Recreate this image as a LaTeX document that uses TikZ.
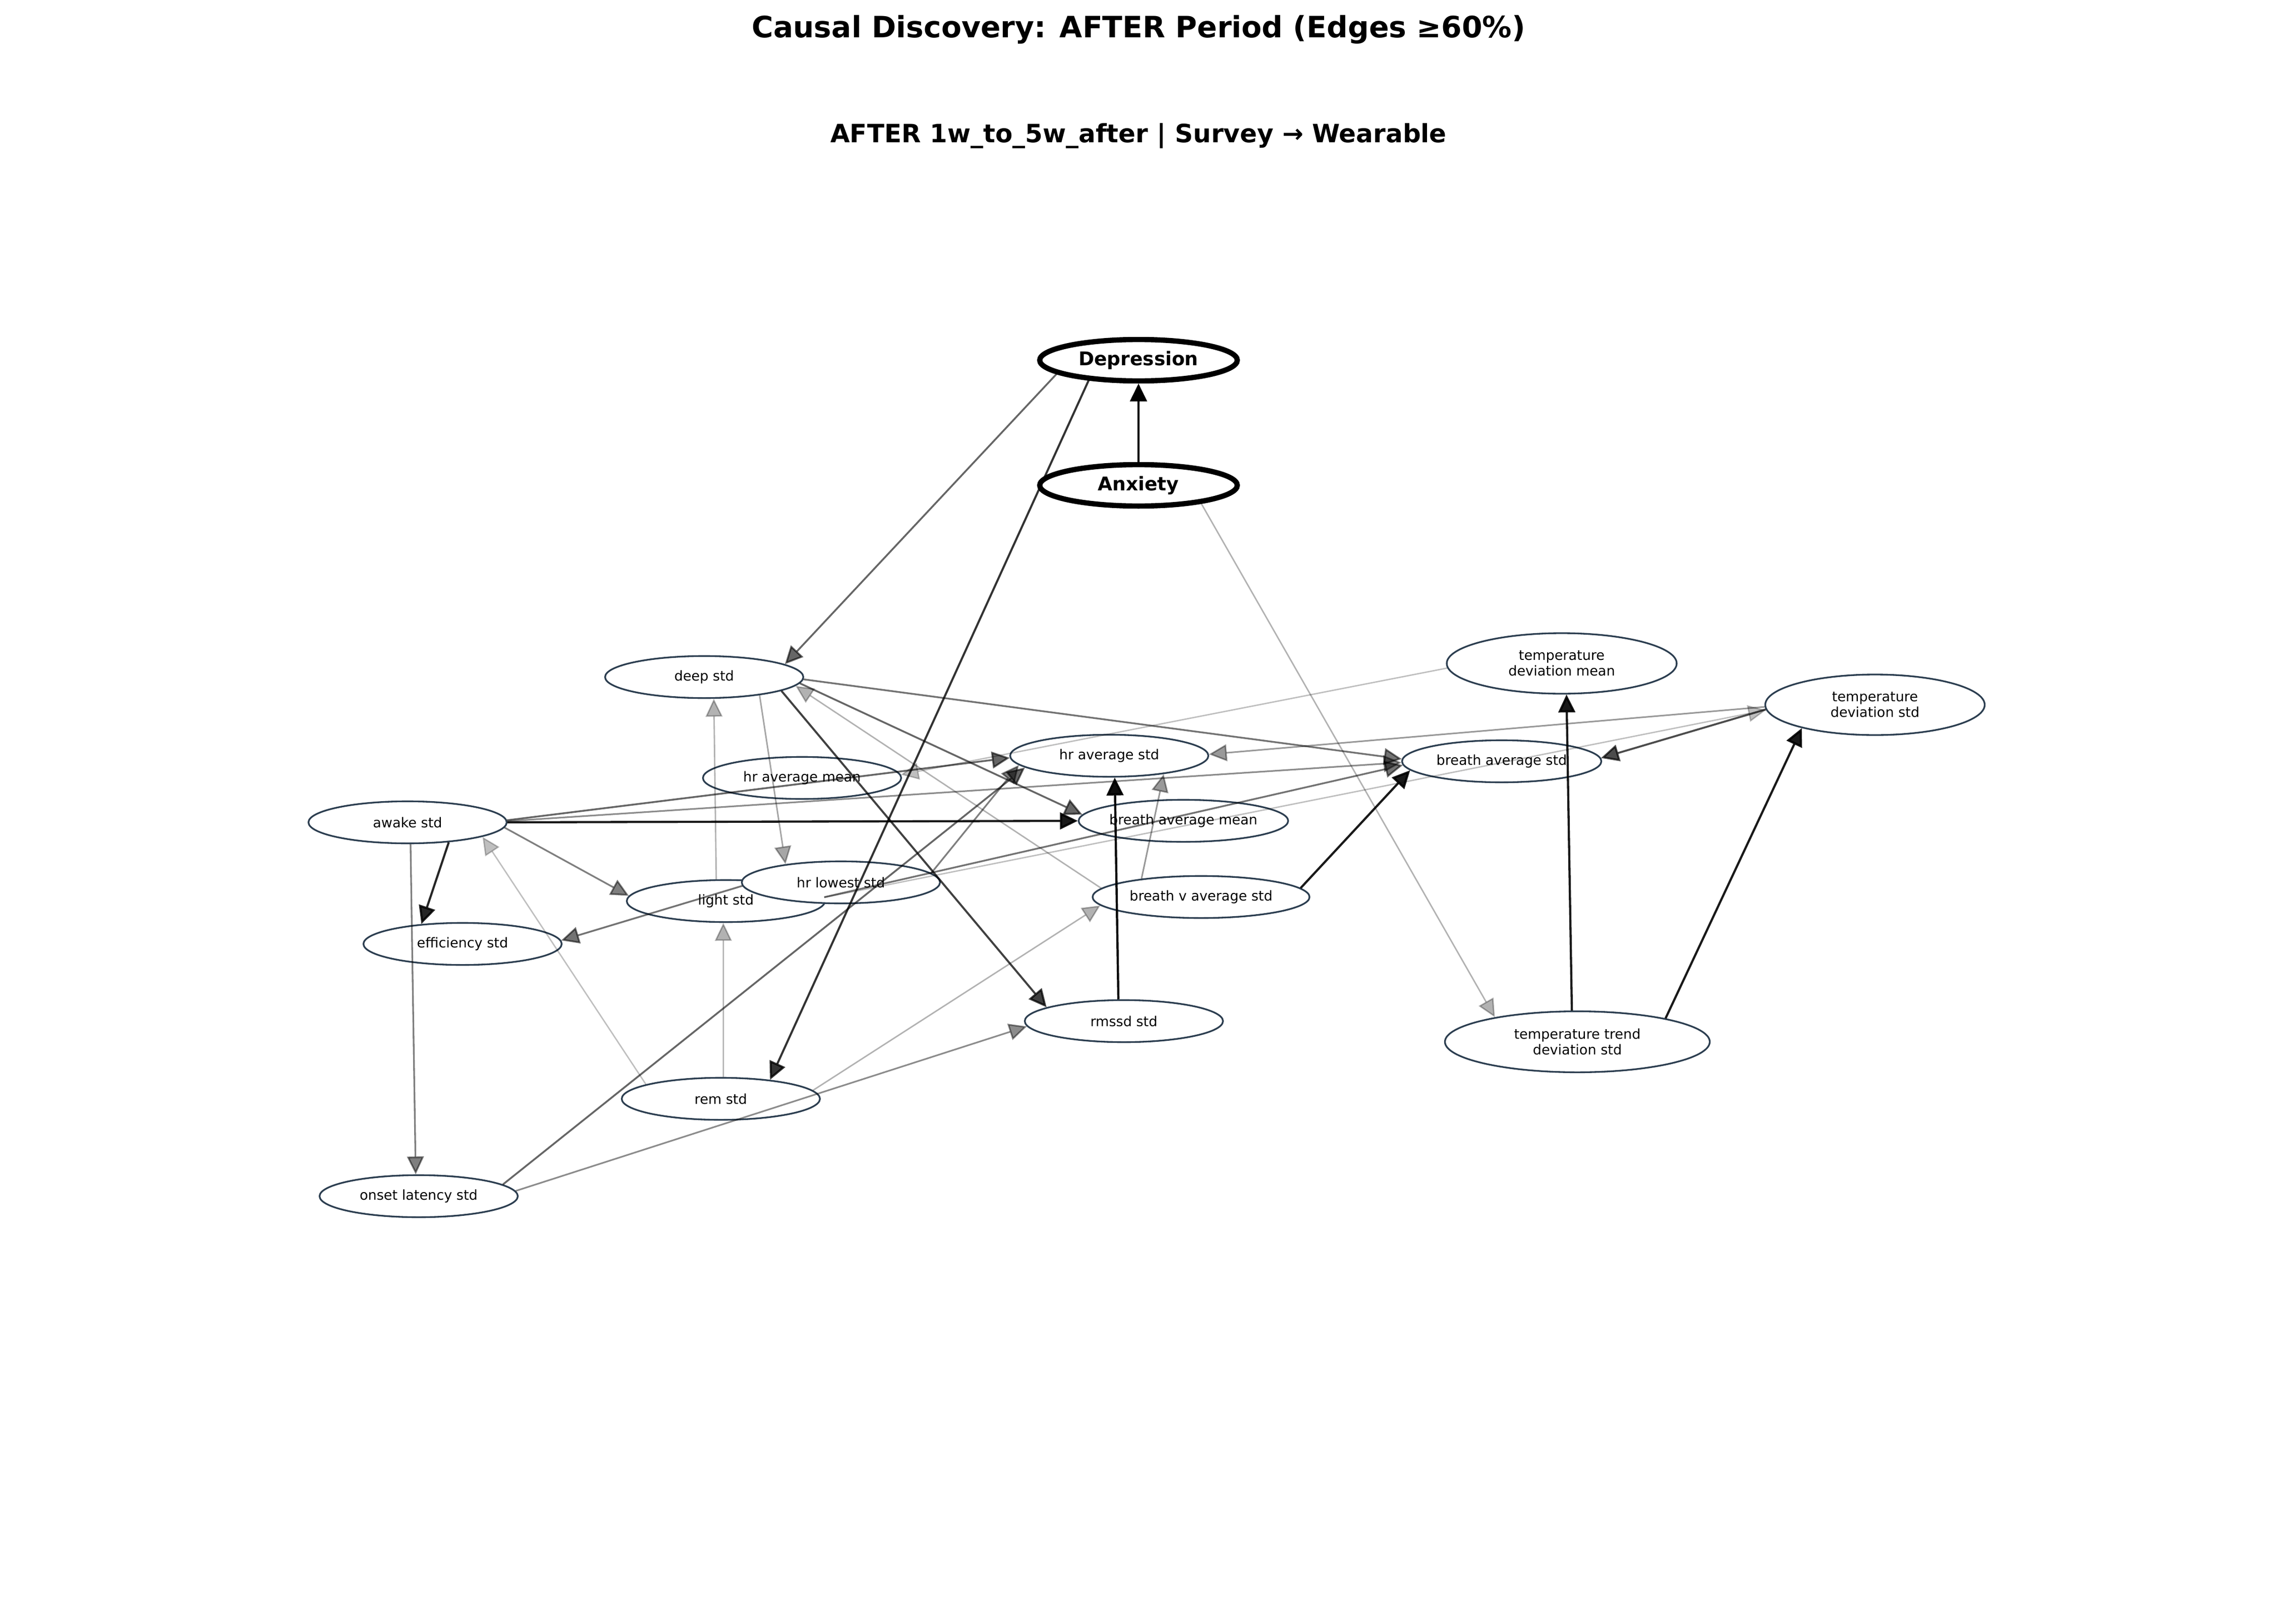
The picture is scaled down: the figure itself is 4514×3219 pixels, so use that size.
\documentclass[tikz,border=0pt]{standalone}
\usepackage{fontspec}
\setmainfont{DejaVu Sans}
\usetikzlibrary{shapes.geometric,arrows.meta,calc}
\definecolor{nodeedge}{HTML}{2C3E50}

\tikzset{
  var/.style={ellipse, draw=nodeedge, line width=0.8pt, fill=white, inner sep=0pt,
    minimum width=94.3pt, minimum height=20pt, align=center,
    font=\fontsize{6.5}{7.4}\selectfont},
  survey/.style={ellipse, draw=black, line width=2.5pt, fill=white, inner sep=0pt,
    minimum width=94pt, minimum height=19.7pt, font=\fontsize{9}{11}\selectfont\bfseries},
  causal/.style={-{Triangle[length=8.5pt,width=8pt,line join=miter]}, opacity=#1, line width=0.5pt+0.6pt*#1},
}

% edge from ellipse #2 to ellipse #3 with strength #1
\newcommand{\drawlink}[3]{%
  \draw[causal=#1] let \p1=(#2.center), \p2=(#3.center),
    \p3=(#2.east), \p4=(#2.north), \p5=(#3.east), \p6=(#3.north),
    \n1={atan2((\y2)-(\y1),(\x2)-(\x1))},
    \n2={(\x3)-(\x1)}, \n3={(\y4)-(\y1)}, \n4={(\x5)-(\x2)}, \n5={(\y6)-(\y2)} in
    ($(\p1)+(\n1:\n2 and \n3)$) -- ($(\p2)+(\n1+180:\n4 and \n5)$);}

\begin{document}
\begin{tikzpicture}[x=0.24pt, y=-0.24pt]
% Page size (pixels of the figure)
\fill[white] (0,0) rectangle (4514,3219);
\useasboundingbox (0,0) rectangle (4514,3219);

% Titles
\node[anchor=base, font=\fontsize{14}{17}\selectfont\bfseries] (title) at (2257,75) {Causal Discovery: AFTER Period (Edges ≥60\%)};
\node[anchor=base, font=\fontsize{12}{14}\selectfont\bfseries] (subtitle) at (2257,282) {AFTER 1w\_to\_5w\_after | Survey → Wearable};

% Survey nodes
\node[survey] (dep) at (2257,714) {Depression};
\node[survey] (anx) at (2257,962) {Anxiety};

% Wearable nodes
\node[var] (deep) at (1396,1342) {deep std};
\node[var] (hravgmean) at (1590,1542) {hr average mean};
\node[var] (awake) at (808,1630) {awake std};
\node[var] (light) at (1439,1786) {light std};
\node[var] (hrlow) at (1667,1749) {hr lowest std};
\node[var] (eff) at (917,1871) {efficiency std};
\node[var] (rem) at (1429,2178) {rem std};
\node[var] (onset) at (830,2371) {onset latency std};
\node[var] (hravgstd) at (2199,1498) {hr average std};
\node[var, minimum width=94.8pt] (bravgstd) at (2977,1509) {breath average std};
\node[var, minimum width=98.9pt] (bravgmean) at (2346,1627) {breath average mean};
\node[var, minimum width=103.2pt] (brvstd) at (2381,1778) {breath v average std};
\node[var] (rmssd) at (2228,2024) {rmssd std};
\node[var, minimum width=109.4pt, minimum height=28.8pt] (tdm) at (3096,1315) {temperature\\deviation mean};
\node[var, minimum width=104.4pt, minimum height=28.8pt] (tds) at (3717,1397) {temperature\\deviation std};
\node[var, minimum width=126pt, minimum height=29pt] (ttds) at (3127,2065) {temperature trend\\deviation std};

% Edges (strength = opacity)
\drawlink{1}{anx}{dep}
\drawlink{0.6}{dep}{deep}
\drawlink{0.8}{dep}{rem}
\drawlink{0.3}{anx}{ttds}
\drawlink{0.55}{deep}{bravgstd}
\drawlink{0.6}{deep}{bravgmean}
\drawlink{0.75}{deep}{rmssd}
\drawlink{0.35}{deep}{hrlow}
\drawlink{0.3}{light}{deep}
\drawlink{0.3}{brvstd}{deep}
\drawlink{0.25}{tdm}{hravgmean}
\drawlink{0.4}{tds}{hravgstd}
\drawlink{0.25}{light}{tds}
\drawlink{0.7}{tds}{bravgstd}
\drawlink{0.9}{ttds}{tds}
\drawlink{0.9}{ttds}{tdm}
\drawlink{0.6}{awake}{hravgstd}
\drawlink{0.45}{awake}{bravgstd}
\drawlink{0.9}{awake}{bravgmean}
\drawlink{0.5}{awake}{light}
\drawlink{0.85}{awake}{eff}
\drawlink{0.5}{awake}{onset}
\drawlink{0.55}{light}{bravgstd}
\drawlink{0.5}{hrlow}{hravgstd}
\drawlink{0.6}{onset}{hravgstd}
\drawlink{0.45}{onset}{rmssd}
\drawlink{0.95}{rmssd}{hravgstd}
\drawlink{0.4}{brvstd}{hravgstd}
\drawlink{0.9}{brvstd}{bravgstd}
\drawlink{0.3}{rem}{brvstd}
\drawlink{0.3}{rem}{light}
\drawlink{0.25}{rem}{awake}
\drawlink{0.55}{hrlow}{eff}
\end{tikzpicture}
\end{document}
